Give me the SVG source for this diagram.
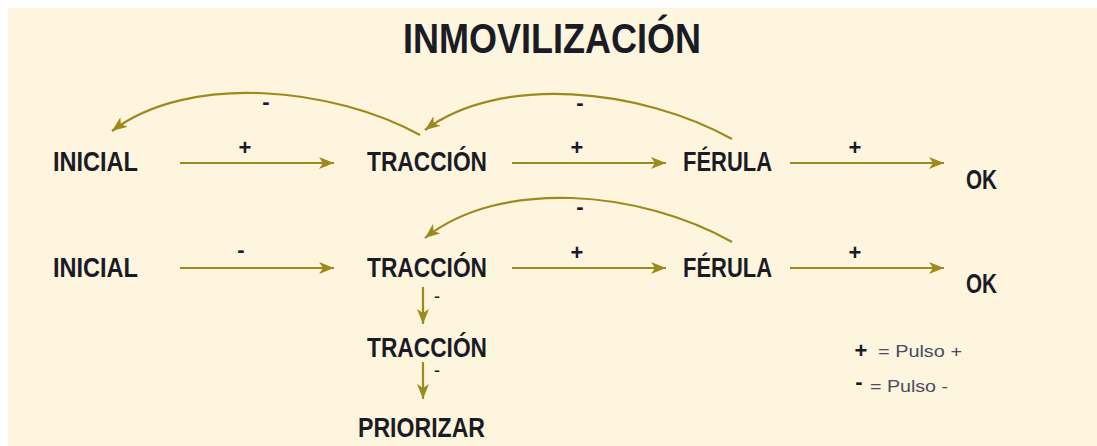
<svg xmlns="http://www.w3.org/2000/svg" width="1097" height="446" viewBox="0 0 1097 446">
  <defs>
    <marker id="ah" markerUnits="userSpaceOnUse" markerWidth="16" markerHeight="12" viewBox="0 0 16 12" refX="15" refY="6" orient="auto">
      <path d="M0,0 L15,6 L0,12 L4,6 Z" fill="#9E8A1C"/>
    </marker>
    <style>
      .node { font-family: "Liberation Sans", Arial, sans-serif; font-weight: bold; font-size: 27px; fill: #1B1B26; }
      .lbl { font-family: "Liberation Sans", Arial, sans-serif; font-weight: bold; font-size: 22px; fill: #1B1B26; text-anchor: middle; }
      .sm { font-family: "Liberation Sans", Arial, sans-serif; font-weight: bold; font-size: 13px; fill: #1B1B26; }
      .edge { fill: none; stroke: #9E8A1C; stroke-width: 2.2; marker-end: url(#ah); }
      .leg { font-family: "Liberation Sans", Arial, sans-serif; font-size: 16px; fill: #4B4B62; }
    </style>
  </defs>
  <rect x="8" y="8" width="1089" height="438" fill="#FDF5DD"/>
  <text x="403" y="53" font-family="Liberation Sans, Arial, sans-serif" font-weight="bold" font-size="43" fill="#1B1B26" textLength="298" lengthAdjust="spacingAndGlyphs">INMOVILIZACIÓN</text>

  <g id="connectors">
    <line class="edge" x1="180" y1="163" x2="334" y2="163"/>
    <line class="edge" x1="512" y1="163" x2="666" y2="163"/>
    <line class="edge" x1="790" y1="163" x2="944" y2="163"/>
    <path class="edge" d="M420,135 C335,88 190,72 112,131"/>
    <path class="edge" d="M732,139 C640,88 500,74 425,130"/>
    <line class="edge" x1="180" y1="268" x2="334" y2="268"/>
    <line class="edge" x1="512" y1="268" x2="666" y2="268"/>
    <line class="edge" x1="790" y1="268" x2="944" y2="268"/>
    <path class="edge" d="M732,242 C640,190 500,178 425,238"/>
    <line class="edge" x1="423" y1="287" x2="423" y2="324"/>
    <line class="edge" x1="423" y1="362" x2="423" y2="399"/>
    <text class="lbl" x="245" y="155">+</text>
    <text class="lbl" x="577" y="155">+</text>
    <text class="lbl" x="855" y="155">+</text>
    <text class="lbl" x="266" y="109">-</text>
    <text class="lbl" x="580" y="110">-</text>
    <text class="lbl" x="241" y="257">-</text>
    <text class="lbl" x="577" y="260">+</text>
    <text class="lbl" x="855" y="260">+</text>
    <text class="lbl" x="580" y="214">-</text>
    <text class="sm" x="434" y="301" textLength="6" lengthAdjust="spacingAndGlyphs">-</text>
    <text class="sm" x="434" y="375" textLength="6" lengthAdjust="spacingAndGlyphs">-</text>
  </g>

  <g id="inicial1"><text class="node" x="53" y="171" textLength="85" lengthAdjust="spacingAndGlyphs">INICIAL</text></g>
  <g id="traccion1"><text class="node" x="367" y="171" textLength="120" lengthAdjust="spacingAndGlyphs">TRACCIÓN</text></g>
  <g id="ferula1"><text class="node" x="683" y="171" textLength="89" lengthAdjust="spacingAndGlyphs">FÉRULA</text></g>
  <g id="ok1"><text class="node" x="966" y="189" textLength="31" lengthAdjust="spacingAndGlyphs">OK</text></g>

  <g id="inicial2"><text class="node" x="53" y="277" textLength="85" lengthAdjust="spacingAndGlyphs">INICIAL</text></g>
  <g id="traccion2"><text class="node" x="367" y="277" textLength="120" lengthAdjust="spacingAndGlyphs">TRACCIÓN</text></g>
  <g id="ferula2"><text class="node" x="683" y="277" textLength="89" lengthAdjust="spacingAndGlyphs">FÉRULA</text></g>
  <g id="ok2"><text class="node" x="966" y="293" textLength="31" lengthAdjust="spacingAndGlyphs">OK</text></g>

  <g id="traccion3"><text class="node" x="367" y="357" textLength="120" lengthAdjust="spacingAndGlyphs">TRACCIÓN</text></g>
  <g id="priorizar"><text class="node" x="358" y="437" textLength="127" lengthAdjust="spacingAndGlyphs">PRIORIZAR</text></g>

  <g id="legend">
    <text class="lbl" x="861" y="358" font-size="26">+</text>
    <text class="leg" x="878" y="357" textLength="84" lengthAdjust="spacingAndGlyphs">= Pulso +</text>
    <text class="lbl" x="859" y="389">-</text>
    <text class="leg" x="870" y="392" textLength="78" lengthAdjust="spacingAndGlyphs">= Pulso -</text>
  </g>
</svg>
